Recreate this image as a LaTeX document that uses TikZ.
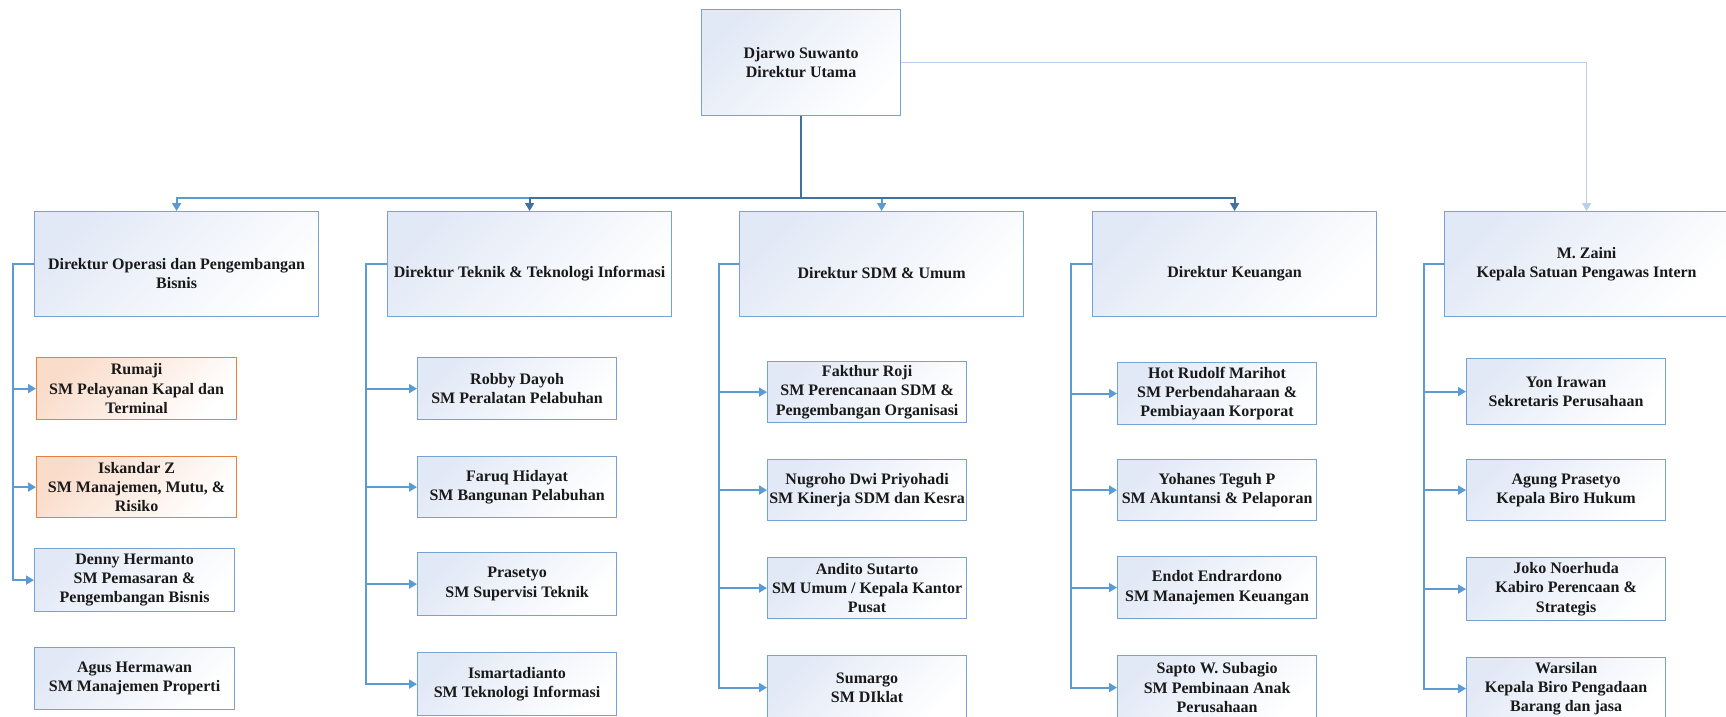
\documentclass[tikz,border=0pt]{standalone}
\usepackage{fontspec}
\setmainfont{Liberation Serif}
\usetikzlibrary{arrows.meta}

\definecolor{boxline}{RGB}{116,163,212}
\definecolor{boxfill}{RGB}{226,233,246}
\definecolor{orangeline}{RGB}{232,128,62}
\definecolor{orangefill}{RGB}{250,220,202}
\definecolor{midblue}{RGB}{91,155,213}
\definecolor{darkblue}{RGB}{65,113,160}
\definecolor{paleblue}{RGB}{184,208,236}
\newcommand\orgfont{\bfseries\fontsize{16}{19.3}\selectfont}
% an empty first line, as tall as a line of text
\newcommand\blankline{\vphantom{D}}

\tikzset{
  orgbox/.style={draw=boxline, line width=1.2pt, top color=boxfill, bottom color=white,
    shading angle=45, inner sep=0pt, align=center, anchor=north west,
    font=\orgfont, text=black!90},
  warnbox/.style={orgbox, draw=orangeline, top color=orangefill, bottom color=white, shading angle=45},
  dirsize/.style={minimum width=284pt, minimum height=105pt},
  subsize/.style={minimum width=199pt, minimum height=#1},
  link/.style={line width=1.8pt, draw=midblue, line join=miter, -{Triangle[length=8pt,width=9pt]}},
  linkdark/.style={link, draw=darkblue},
  linkpale/.style={line width=1.3pt, draw=paleblue, -{Triangle[length=8pt,width=9pt]}},
}

\begin{document}
\begin{tikzpicture}[x=1pt, y=-1pt]
\useasboundingbox (0,0) rectangle (1726,717);
\clip (0,0) rectangle (1726,717);
\fill[white] (0,0) rectangle (1726,717);

% head of the company
\node[orgbox, minimum width=199pt, minimum height=106pt] (top) at (701,9) {Djarwo Suwanto\\Direktur Utama};

% directors
\node[orgbox, dirsize] (dops) at (34,211) {\blankline\\Direktur Operasi dan Pengembangan\\Bisnis};
\node[orgbox, dirsize] (dtek) at (387,211) {\blankline\\Direktur Teknik \& Teknologi Informasi};
\node[orgbox, dirsize] (dsdm) at (739,211) {\blankline\\Direktur SDM \& Umum};
\node[orgbox, dirsize] (dkeu) at (1092,211) {\blankline\\Direktur Keuangan};
\node[orgbox, dirsize] (dspi) at (1444,211) {M. Zaini\\Kepala Satuan Pengawas Intern};

% operations
\node[warnbox, minimum width=200pt, minimum height=62pt] (a1) at (36,357) {Rumaji\\SM Pelayanan Kapal dan\\Terminal};
\node[warnbox, minimum width=200pt, minimum height=61pt] (a2) at (36,456) {Iskandar Z\\SM Manajemen, Mutu, \&\\Risiko};
\node[orgbox, minimum width=200pt, minimum height=63pt] (a3) at (34,548) {Denny Hermanto\\SM Pemasaran \&\\Pengembangan Bisnis};
\node[orgbox, minimum width=200pt, minimum height=62pt] (a4) at (34,647) {Agus Hermawan\\SM Manajemen Properti};

% engineering
\node[orgbox, subsize=62pt] (b1) at (417,357) {Robby Dayoh\\SM Peralatan Pelabuhan};
\node[orgbox, subsize=61pt] (b2) at (417,456) {Faruq Hidayat\\SM Bangunan Pelabuhan};
\node[orgbox, subsize=63pt] (b3) at (417,552) {Prasetyo\\SM Supervisi Teknik};
\node[orgbox, subsize=63pt] (b4) at (417,652) {Ismartadianto\\SM Teknologi Informasi};

% human resources
\node[orgbox, subsize=61pt] (c1) at (767,361) {Fakthur Roji\\SM Perencanaan SDM \&\\Pengembangan Organisasi};
\node[orgbox, subsize=61pt] (c2) at (767,459) {Nugroho Dwi Priyohadi\\SM Kinerja SDM dan Kesra};
\node[orgbox, subsize=61pt] (c3) at (767,557) {Andito Sutarto\\SM Umum / Kepala Kantor\\Pusat};
\node[orgbox, subsize=64pt] (c4) at (767,655) {Sumargo\\SM DIklat};

% finance
\node[orgbox, subsize=62pt] (d1) at (1117,362) {Hot Rudolf Marihot\\SM Perbendaharaan \&\\Pembiayaan Korporat};
\node[orgbox, subsize=61pt] (d2) at (1117,459) {Yohanes Teguh P\\SM Akuntansi \& Pelaporan};
\node[orgbox, subsize=62pt] (d3) at (1117,556) {Endot Endrardono\\SM Manajemen Keuangan};
\node[orgbox, subsize=64pt] (d4) at (1117,655) {Sapto W. Subagio\\SM Pembinaan Anak\\Perusahaan};

% internal audit
\node[orgbox, subsize=66pt] (e1) at (1466,358) {Yon Irawan\\Sekretaris Perusahaan};
\node[orgbox, subsize=61pt] (e2) at (1466,459) {Agung Prasetyo\\Kepala Biro Hukum};
\node[orgbox, subsize=63pt] (e3) at (1466,557) {Joko Noerhuda\\Kabiro Perencaan \&\\Strategis};
\node[orgbox, subsize=62pt] (e4) at (1466,657) {Warsilan\\Kepala Biro Pengadaan\\Barang dan jasa};

% bus from the head to the directors
\coordinate (bus) at ([yshift=-82pt]top.south);
\draw[link] (top.south) -- (bus) -| (dops.north);
\draw[link] (top.south) -- (bus) -| (dsdm.north);
\draw[linkdark] (top.south) -- (bus) -| (dtek.north);
\draw[linkdark] (top.south) -- (bus) -| (dkeu.north);
\draw[linkpale] (top.east) -| (dspi.north);

% spines from each director down to the staff
\coordinate (va) at ([xshift=-21pt]dops.west);
\coordinate (vb) at ([xshift=-21pt]dtek.west);
\coordinate (vc) at ([xshift=-20pt]dsdm.west);
\coordinate (vd) at ([xshift=-21pt]dkeu.west);
\coordinate (ve) at ([xshift=-20pt]dspi.west);

\foreach \s in {a1,a2,a3} \draw[link] (dops.west) -- (va) |- (\s.west);
\foreach \s in {b1,b2,b3,b4} \draw[link] (dtek.west) -- (vb) |- (\s.west);
\foreach \s in {c1,c2,c3,c4} \draw[link] (dsdm.west) -- (vc) |- (\s.west);
\foreach \s in {d1,d2,d3,d4} \draw[link] (dkeu.west) -- (vd) |- (\s.west);
\foreach \s in {e1,e2,e3,e4} \draw[link] (dspi.west) -- (ve) |- (\s.west);
\end{tikzpicture}
\end{document}
